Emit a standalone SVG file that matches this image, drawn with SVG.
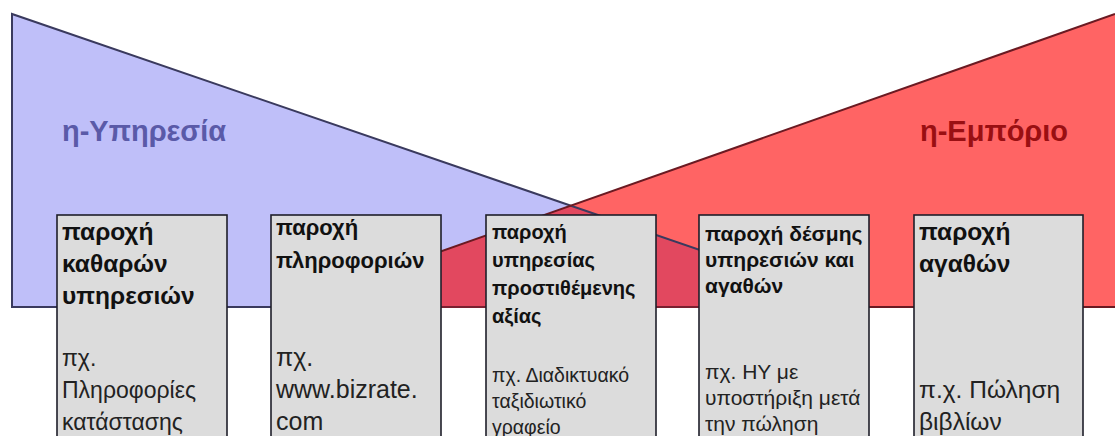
<svg xmlns="http://www.w3.org/2000/svg" width="1115" height="436" viewBox="0 0 1115 436">
<style>
.box{fill:#dcdcdc;stroke:#1e1e2a;stroke-width:1.6}
.h{font-family:"Liberation Sans",Arial,sans-serif;font-weight:bold;fill:#111}
.t{font-family:"Liberation Sans",Arial,sans-serif;fill:#222}
.lbl{font-family:"Liberation Sans",Arial,sans-serif;font-weight:bold;font-size:29px}
</style>
<rect width="1115" height="436" fill="#ffffff"/>
<g id="background">
<polygon points="12,14 12,307 866,307" fill="#bfbff9"/>
<polygon points="1115,14 1115,307 283,307" fill="#ff6464"/>
<polygon points="283,307 570.6,205.6 866,307" fill="#e2485f"/>
<polyline points="866,307 12,307 12,14 866,307" fill="none" stroke="#3a3a5e" stroke-width="2"/>
<polyline points="1115,14 283,307 1115,307" fill="none" stroke="#6a1a22" stroke-width="2"/>
<line x1="283" y1="307" x2="866" y2="307" stroke="#7a2030" stroke-width="2"/>
<text class="lbl" x="62" y="141" fill="#5a5aa8">η-Υπηρεσία</text>
<text class="lbl" x="920" y="141" fill="#9a0f12">η-Εμπόριο</text>
</g>
<g id="node1">
<rect class="box" x="57" y="215" width="170" height="240"/>
<g class="h" font-size="24.5">
<text x="62" y="240">παροχή</text>
<text x="62" y="272">καθαρών</text>
<text x="62" y="304">υπηρεσιών</text>
</g>
<g class="t" font-size="23">
<text x="62" y="366">πχ.</text>
<text x="62" y="398">Πληροφορίες</text>
<text x="62" y="430">κατάστασης</text>
</g>
</g>
<g id="node2">
<rect class="box" x="271" y="215" width="170" height="240"/>
<g class="h" font-size="22">
<text x="276" y="235">παροχή</text>
<text x="276" y="268">πληροφοριών</text>
</g>
<g class="t" font-size="25">
<text x="276" y="366">πχ.</text>
<text x="276" y="398">www.bizrate.</text>
<text x="276" y="430">com</text>
</g>
</g>
<g id="node3">
<rect class="box" x="486" y="215" width="170" height="240"/>
<g class="h" font-size="20">
<text x="492" y="239">παροχή</text>
<text x="492" y="267">υπηρεσίας</text>
<text x="492" y="295">προστιθέμενης</text>
<text x="492" y="323">αξίας</text>
</g>
<g class="t" font-size="19.5">
<text x="492" y="382">πχ. Διαδικτυακό</text>
<text x="492" y="408">ταξιδιωτικό</text>
<text x="492" y="434">γραφείο</text>
</g>
</g>
<g id="node4">
<rect class="box" x="699" y="215" width="170" height="240"/>
<g class="h" font-size="21">
<text x="705" y="241">παροχή δέσμης</text>
<text x="705" y="267">υπηρεσιών και</text>
<text x="705" y="293">αγαθών</text>
</g>
<g class="t" font-size="21">
<text x="705" y="379">πχ. ΗΥ με</text>
<text x="705" y="405">υποστήριξη μετά</text>
<text x="705" y="431">την πώληση</text>
</g>
</g>
<g id="node5">
<rect class="box" x="914" y="215" width="169" height="240"/>
<g class="h" font-size="24.5">
<text x="919" y="240">παροχή</text>
<text x="919" y="272">αγαθών</text>
</g>
<g class="t" font-size="24.5">
<text x="919" y="398">π.χ. Πώληση</text>
<text x="919" y="430">βιβλίων</text>
</g>
</g>
</svg>
